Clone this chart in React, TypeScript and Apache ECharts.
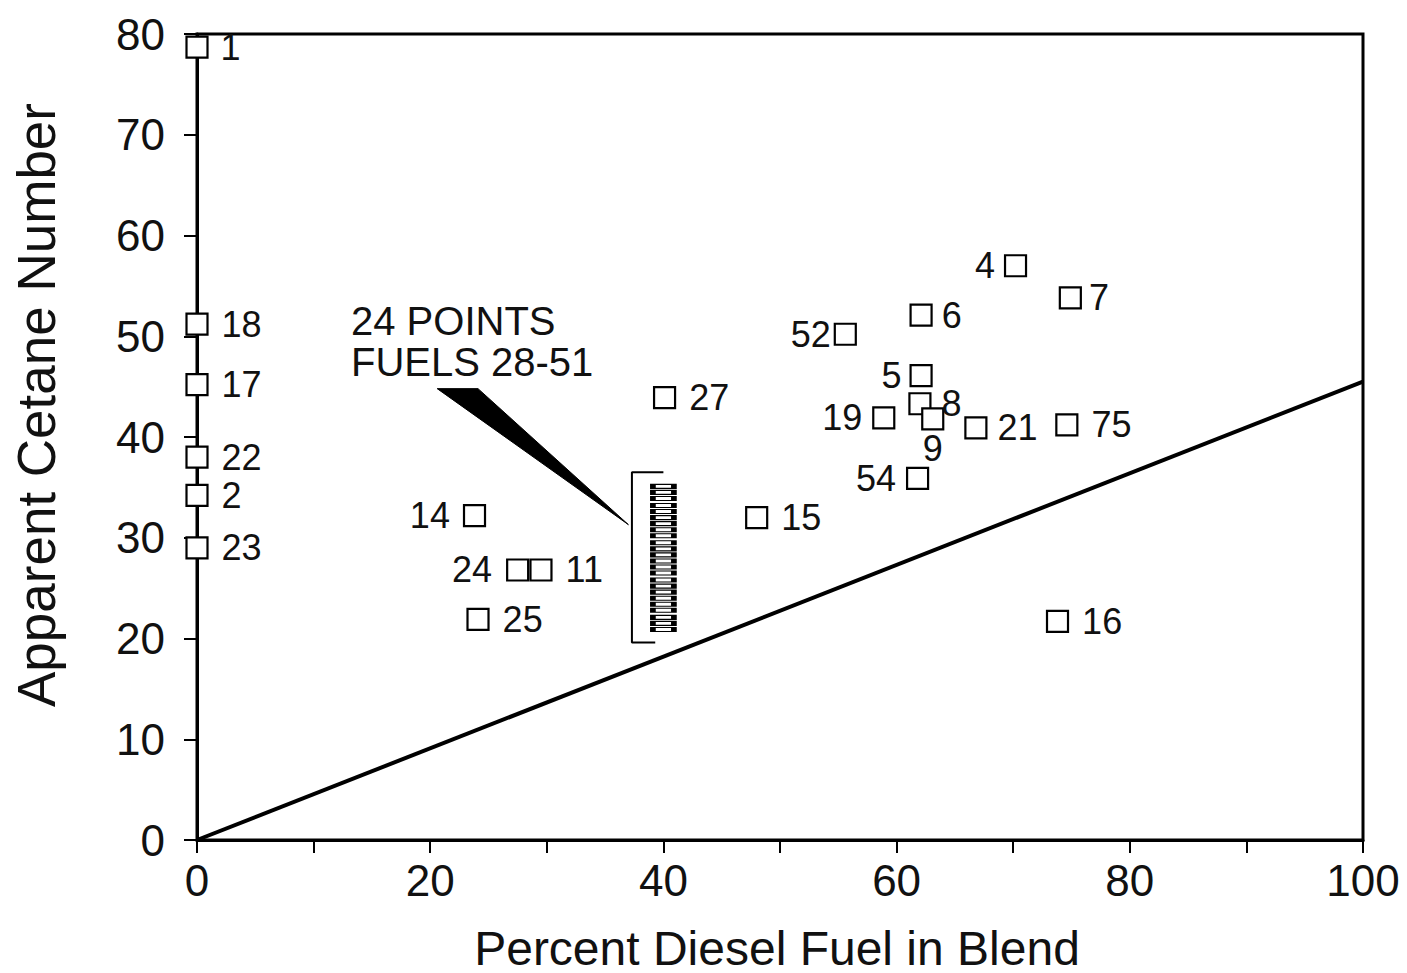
import React, { useEffect, useRef } from 'react';
import * as echarts from 'echarts';

// ---- data ----
const fuelIds = ['1', '18', '17', '22', '2', '23', '14', '24', '11', '25', '27', '15', '52', '6', '4', '7', '5', '8', '19', '21', '75', '9', '54', '16'];
const pctDiesel = [0, 0, 0, 0, 0, 0, 23.8, 27.5, 29.5, 24.1, 40.1, 48.0, 55.6, 62.1, 70.2, 74.9, 62.1, 62.0, 58.9, 66.8, 74.6, 63.1, 61.8, 73.8];
const cetane = [78.7, 51.2, 45.2, 38.0, 34.2, 29.0, 32.2, 26.8, 26.8, 21.9, 43.9, 32.0, 50.2, 52.1, 57.0, 53.8, 46.1, 43.3, 41.9, 40.9, 41.2, 41.8, 35.9, 21.7];

// 24 points, fuels 28-51, all at about 40 % diesel
const groupPct = [40, 40, 40, 40, 40, 40, 40, 40, 40, 40, 40, 40, 40, 40, 40, 40, 40, 40, 40, 40, 40, 40, 40, 40];
const groupCetane = [35.1, 34.5, 33.9, 33.2, 32.6, 32.0, 31.4, 30.8, 30.2, 29.5, 28.9, 28.3, 27.7, 27.1, 26.5, 25.8, 25.2, 24.6, 24.0, 23.4, 22.8, 22.1, 21.5, 20.9];

const refLineX = [0, 100];
const refLineY = [0, 45.5];

const bracketX = [40.0, 37.3, 37.3, 39.3];
const bracketY = [36.5, 36.5, 19.6, 19.6];

const wedgeX = [20.6, 24.1, 37.0];
const wedgeY = [44.8, 44.8, 31.3];

const xLabelValues = [0, 20, 40, 60, 80, 100];
const yLabelValues = [0, 10, 20, 30, 40, 50, 60, 70, 80];

const annotationLines = ['24 POINTS', 'FUELS 28-51'];
const xTitle = 'Percent Diesel Fuel in Blend';
const yTitle = 'Apparent Cetane Number';

const FONT = '"Liberation Sans", Arial, Helvetica, sans-serif';
const INK = '#111';

// ---- label placement (style, not data) ----
const labelPlacement: Record<string, any> = {
  '1': { position: 'right', distance: 12, offset: [0, 16] },
  '14': { position: 'left', distance: 13 },
  '24': { position: 'left', distance: 14 },
  '52': { position: 'left', distance: 3 },
  '4': { position: 'left', distance: 9 },
  '5': { position: 'left', distance: 8 },
  '19': { position: 'left', distance: 10 },
  '54': { position: 'left', distance: 10 },
  '8': { position: 'right', distance: 10, offset: [0, -14] },
  '9': { position: 'bottom', distance: 0, offset: [2, 0] },
  '7': { position: 'right', distance: 7 },
  '6': { position: 'right', distance: 9 },
  '21': { position: 'right', distance: 10 },
};

export default function App() {
  const ref = useRef<HTMLDivElement>(null);

  useEffect(() => {
    if (!ref.current) return;
    const chart = echarts.init(ref.current, undefined, { renderer: 'svg' });

    const pointData = fuelIds.map((id, i) => {
      const p = labelPlacement[id] || { position: 'right', distance: 13 };
      return {
        name: id,
        value: [pctDiesel[i], cetane[i]],
        label: { show: true, color: INK, fontSize: 36, fontFamily: FONT, ...p },
      };
    });

    const groupData = groupPct.map((x, i) => [x, groupCetane[i]]);

    const option: any = {
      animation: false,
      backgroundColor: '#fff',
      grid: {
        left: 197,
        top: 34,
        right: 44,
        bottom: 133,
        show: true,
        borderColor: '#000',
        borderWidth: 3,
        backgroundColor: 'transparent',
      },
      xAxis: {
        type: 'value',
        min: 0,
        max: 100,
        interval: 10,
        axisLine: { show: true, onZero: false, lineStyle: { color: '#000', width: 3 } },
        axisTick: { show: true, inside: false, length: 13, lineStyle: { color: '#000', width: 2 } },
        splitLine: { show: false },
        axisLabel: {
          margin: 18,
          color: INK,
          fontSize: 44,
          fontFamily: FONT,
          formatter: (v: number) => (xLabelValues.includes(v) ? String(v) : ''),
        },
      },
      yAxis: {
        type: 'value',
        min: 0,
        max: 80,
        interval: 10,
        axisLine: { show: true, onZero: false, lineStyle: { color: '#000', width: 3 } },
        axisTick: { show: true, inside: false, length: 13, lineStyle: { color: '#000', width: 2 } },
        splitLine: { show: false },
        axisLabel: {
          margin: 32,
          color: INK,
          fontSize: 44,
          fontFamily: FONT,
          formatter: (v: number) => (yLabelValues.includes(v) ? String(v) : ''),
        },
      },
      series: [
        {
          type: 'line',
          data: refLineX.map((x, i) => [x, refLineY[i]]),
          showSymbol: false,
          symbol: 'none',
          lineStyle: { color: '#000', width: 4 },
          silent: true,
          z: 2,
        },
        {
          type: 'line',
          data: bracketX.map((x, i) => [x, bracketY[i]]),
          showSymbol: false,
          symbol: 'none',
          lineStyle: { color: '#000', width: 2 },
          silent: true,
          z: 2,
        },
        {
          type: 'custom',
          data: [[0, 0]],
          silent: true,
          z: 3,
          renderItem: (_params: any, api: any) => {
            const pts = wedgeX.map((x, i) => api.coord([x, wedgeY[i]]));
            return {
              type: 'polygon',
              shape: { points: pts },
              style: { fill: '#000', stroke: '#000', lineWidth: 1 },
            };
          },
        },
        {
          type: 'scatter',
          data: groupData,
          symbol: 'rect',
          symbolSize: [21, 4],
          itemStyle: { color: '#fff', borderColor: '#000', borderWidth: 2.5, opacity: 1 },
          z: 4,
        },
        {
          type: 'scatter',
          data: pointData,
          symbol: 'rect',
          symbolSize: 21,
          itemStyle: { color: '#fff', borderColor: '#000', borderWidth: 2.2, opacity: 1 },
          label: {
            show: true,
            formatter: (p: any) => p.name,
            color: INK,
            fontSize: 36,
            fontFamily: FONT,
          },
          labelLayout: { hideOverlap: false },
          z: 5,
        },
      ],
      graphic: [
        {
          type: 'text',
          x: 777,
          y: 948,
          style: { text: xTitle, font: `48px ${FONT}`, fill: INK, align: 'center', verticalAlign: 'middle' },
        },
        {
          type: 'text',
          x: 36,
          y: 405,
          rotation: Math.PI / 2,
          style: { text: yTitle, font: `53px ${FONT}`, fill: INK, align: 'center', verticalAlign: 'middle' },
        },
        {
          type: 'text',
          x: 351,
          y: 321,
          style: { text: annotationLines[0], font: `40px ${FONT}`, fill: INK, align: 'left', verticalAlign: 'middle' },
        },
        {
          type: 'text',
          x: 351,
          y: 362,
          style: { text: annotationLines[1], font: `40px ${FONT}`, fill: INK, align: 'left', verticalAlign: 'middle' },
        },
      ],
    };

    chart.setOption(option);
    return () => chart.dispose();
  }, []);

  return (
    <div
      ref={ref}
      style={{ position: 'absolute', left: 0, top: 0, width: 1407, height: 973, background: '#fff' }}
    />
  );
}
